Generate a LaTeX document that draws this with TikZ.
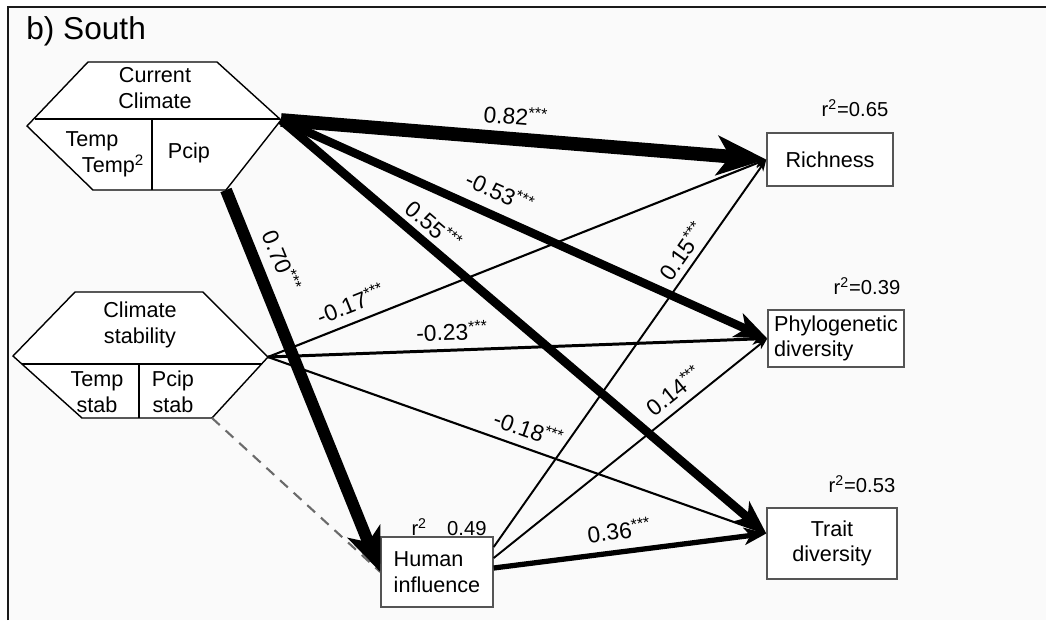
\documentclass[tikz,border=0pt]{standalone}
\usepackage{fontspec}
\setmainfont{Liberation Sans}
\usepackage{tikz}
\usetikzlibrary{arrows.meta,calc}
\definecolor{sebg}{HTML}{FAFAFA}
\definecolor{seframe}{HTML}{1A1A1A}
\definecolor{seboxdraw}{HTML}{555555}
\definecolor{sedash}{HTML}{6A6A6A}
\tikzset{
 varblock/.style={rectangle, draw=seboxdraw, fill=white, line width=0.8pt,
 font=\fontsize{12.3}{14.5}\selectfont, inner sep=0pt},
 hexline/.style={draw=black, fill=white, line width=0.8pt},
 hextext/.style={font=\fontsize{12.3}{14.5}\selectfont, align=center, inner sep=0pt},
 rlabel/.style={font=\fontsize{11.5}{13}\selectfont, inner sep=0pt},
 coef/.style={font=\fontsize{13}{15}\selectfont, sloped, inner sep=0pt},
 patharrow/.style={-{Stealth[length=3pt 3.2, width=2pt 2.6, inset=1pt 0.8]}, draw=black},
 nullpath/.style={draw=sedash, line width=1.2pt, dash pattern=on 6pt off 4.5pt},
}
\newcommand{\sig}{\textsuperscript{***}}

\begin{document}
\begin{tikzpicture}[x=0.02cm, y=-0.02cm]
\useasboundingbox (0,0) rectangle (1046,620);

% panel background and frame
\fill[sebg] (8,7) rectangle (1046,620);
\draw[seframe, line width=1.2pt] (8,620) -- (8,7) -- (1046,7);
\node[anchor=west, font=\fontsize{18}{20}\selectfont, inner sep=0pt] (title) at (26,31) {b) South};

% ---- Current climate (hexagon) ----
\coordinate (cc-w)  at (27,126);
\coordinate (cc-nw) at (88,62);
\coordinate (cc-ne) at (217,62);
\coordinate (cc-e)  at (281,120);
\coordinate (cc-se) at (226,190);
\coordinate (cc-sw) at (93,190);
\draw[hexline] (cc-w) -- (cc-nw) -- (cc-ne) -- (cc-e) -- (cc-se) -- (cc-sw) -- cycle;
\draw[hexline] (35,119) -- (280,119);
\draw[hexline] (152,119) -- (152,190);
\node[hextext] (cc-title) at (155,88) {Current\\Climate};
\node[hextext] (cc-temp)  at (92,141) {Temp};
\node[hextext] (cc-temp2) at (113,166) {Temp\textsuperscript{2}};
\node[hextext] (cc-pcip)  at (189,153) {Pcip};

% ---- Climate stability (hexagon) ----
\coordinate (cs-w)  at (13,356);
\coordinate (cs-nw) at (75,292);
\coordinate (cs-ne) at (203,292);
\coordinate (cs-e)  at (268,357);
\coordinate (cs-se) at (212,418);
\coordinate (cs-sw) at (82,418);
\draw[hexline] (cs-w) -- (cs-nw) -- (cs-ne) -- (cs-e) -- (cs-se) -- (cs-sw) -- cycle;
\draw[hexline] (22,364) -- (262,364);
\draw[hexline] (139,364) -- (139,418);
\node[hextext] (cs-title) at (140,325) {Climate\\stability};
\node[hextext] (cs-temp)  at (97,392) {Temp\\stab};
\node[hextext] (cs-pcip)  at (173,392) {Pcip\\stab};

% ---- response boxes ----
\node[varblock, minimum width=2.52cm, minimum height=1.06cm] (rich) at (830,159.5) {Richness};
\node[varblock, minimum width=2.72cm, minimum height=1.14cm, align=left] (phylo) at (836,338.5)
  {Phylogenetic\\diversity};
\node[varblock, minimum width=2.6cm, minimum height=1.42cm, align=center] (trait) at (832,543.5)
  {Trait\\diversity};
\node[varblock, minimum width=2.24cm, minimum height=1.4cm, align=left] (hum) at (437,572)
  {Human\\influence};

\node[rlabel] (rich-r2)  at (855,108) {r\textsuperscript{2}=0.65};
\node[rlabel] (phylo-r2) at (867,286) {r\textsuperscript{2}=0.39};
\node[rlabel] (trait-r2) at (862,484) {r\textsuperscript{2}=0.53};
\node[rlabel] (hum-r2)   at (449,527) {r\textsuperscript{2}\quad0.49};

% ---- thin paths ----
\draw[nullpath] (cs-se) -- (hum.west);
\draw[patharrow, line width=1.1pt] ($(hum.east)+(0,-25)$) --
  node[coef, pos=0.74, above=3.3pt] (l015) {0.15\sig} (rich.west);
\draw[patharrow, line width=1.1pt] ($(hum.east)+(0,-14)$) --
  node[coef, pos=0.70, above=4.2pt] (l014) {0.14\sig} (phylo.west);
\draw[patharrow, line width=1.2pt] (cs-e) --
  node[coef, pos=0.18, above=5pt] (l017) {-0.17\sig} (rich.west);
\draw[patharrow, line width=1.2pt] (cs-e) --
  node[coef, pos=0.51, above=5pt] (l018) {-0.18\sig} ($(trait.west)+(0,-10)$);
\draw[patharrow, line width=1.7pt] (cs-e) --
  node[coef, pos=0.37, above=4.6pt] (l023) {-0.23\sig} (phylo.west);

% ---- thick paths ----
\draw[patharrow, line width=3pt] ($(hum.east)+(0,-4)$) --
  node[coef, pos=0.47, above=5.5pt] (l036) {0.36\sig} ($(trait.west)+(0,-10)$);
\draw[patharrow, line width=4.8pt] (cc-e) --
  node[coef, pos=0.43, above=6pt] (l053) {-0.53\sig} (phylo.west);
\draw[patharrow, line width=5pt] (cc-e) --
  node[coef, pos=0.29, above=3pt] (l055) {0.55\sig} ($(trait.west)+(0,-10)$);
\draw[patharrow, line width=6.8pt] (cc-se) --
  node[coef, pos=0.21, above=5.7pt] (l070) {0.70\sig} (hum.west);
\draw[patharrow, line width=7.8pt] (cc-e) --
  node[coef, pos=0.48, above=4pt] (l082) {0.82\sig} (rich.west);

\end{tikzpicture}
\end{document}
